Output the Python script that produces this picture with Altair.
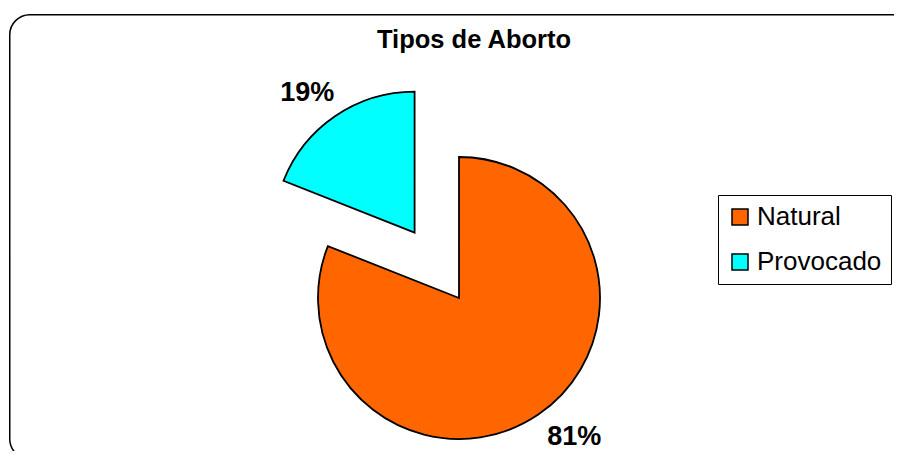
import math
import altair as alt
import pandas as pd

# ---- data ----
categories = ["Natural", "Provocado"]
values = [81, 19]
labels = ["81%", "19%"]
colors = ["#FF6600", "#00FFFF"]
order = [0, 1]

df = pd.DataFrame({"category": categories, "value": values, "label": labels, "order": order})

FONT = "Liberation Sans"
W, H = 885, 437            # view size (px)
CX, CY = 450, 284          # pie centre inside the view (px)
R = 141                    # pie radius
EXPLODE = {"Natural": 0, "Provocado": 79}
LABEL_R = 182
LABEL_SHIFT = {"Natural": (13, -12), "Provocado": (-5, 11)}

total = sum(values)
theta_scale = alt.Scale(domain=[0, total], range=[0, 2 * math.pi])
color_scale = alt.Scale(domain=categories, range=colors)
legend = alt.Legend(
    title=None, orient="none", legendX=709, legendY=181,
    symbolType="square", symbolSize=256, symbolStrokeColor="black",
    symbolStrokeWidth=1.5, labelFontSize=26, labelFont=FONT, labelColor="black",
    rowPadding=19, padding=9, strokeColor="black", fillColor="white",
    labelOffset=4, cornerRadius=0,
)

# outer rounded frame (runs past the right/bottom edge like the reference)
frame = (
    alt.Chart(df)
    .transform_aggregate(n="count()")
    .mark_rect(cornerRadius=20, fill="white", stroke="black", strokeWidth=1.5, clip=True)
    .encode(x=alt.value(0.75), x2=alt.value(W + 20), y=alt.value(0.75), y2=alt.value(H + 8))
)

layers = [frame]
cum = 0
for cat, v in zip(categories, values):
    mid = (cum + v / 2) / total * 2 * math.pi
    cum += v
    d = EXPLODE[cat]
    px = CX + d * math.sin(mid)
    py = CY - d * math.cos(mid)
    base = (
        alt.Chart(df)
        .transform_window(end="sum(value)", sort=[alt.SortField("order")], frame=[None, 0])
        .transform_calculate(start="datum.end - datum.value", mid="datum.end - datum.value / 2")
        .transform_filter(alt.datum.category == cat)
    )
    arc = base.mark_arc(x=px, y=py, radius=R, stroke="black", strokeWidth=1.8).encode(
        theta=alt.Theta("start:Q", scale=theta_scale, stack=False),
        theta2="end:Q",
        color=alt.Color("category:N", scale=color_scale, legend=legend),
    )
    sdx, sdy = LABEL_SHIFT[cat]
    txt = base.mark_text(
        x=px, y=py, radius=LABEL_R, dx=sdx, dy=sdy,
        font=FONT, fontSize=27, fontWeight="bold", color="black",
    ).encode(
        theta=alt.Theta("mid:Q", scale=theta_scale, stack=False),
        text="label:N",
    )
    layers += [arc, txt]

chart = (
    alt.layer(*layers)
    .properties(
        width=W, height=H,
        padding={"left": 1, "top": 6, "right": 0, "bottom": 0},
        autosize=alt.AutoSizeParams(type="none"),
        title=alt.Title("Tipos de Aborto", font=FONT, fontSize=25.5, fontWeight="bold",
                        anchor="middle", dx=22.5, dy=59, offset=0, baseline="alphabetic",
                        color="black"),
        background="white",
    )
    .configure_view(stroke=None)
)

chart.save("out.html", embed_options={"renderer": "svg", "actions": False})
